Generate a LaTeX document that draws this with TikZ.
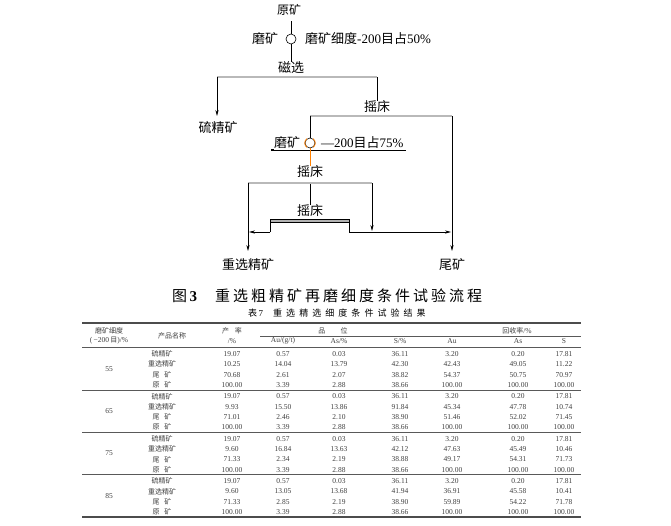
\documentclass[tikz,border=0pt]{standalone}
\usepackage{fontspec}
\setmainfont{Liberation Serif}
\newfontfamily\cjk{Noto Sans CJK SC}
\usetikzlibrary{arrows.meta}
\begin{document}
\begin{tikzpicture}[x=1pt,y=-1pt,
  flow/.style={inner sep=0pt, font=\fontsize{13}{13}\selectfont\cjk},
  circ/.style={draw, circle, minimum size=10pt, inner sep=0pt, line width=0.6pt},
  bar/.style={line width=0.7pt, double=gray!55, double distance=1.4pt},
  hbar/.style={draw=black, line width=0.5pt, fill=gray!60},
  arr/.style={line width=0.6pt, -{Stealth[length=6pt,width=3.2pt]}},
  ln/.style={line width=0.6pt},
  tb/.style={inner sep=0pt, font=\fontsize{7.5}{7.5}\selectfont, text=black!75},
  tbc/.style={inner sep=0pt, font=\fontsize{7}{7}\selectfont\cjk, text=black!75},
  thickrule/.style={line width=1.3pt, draw=black!70},
  thinrule/.style={line width=0.6pt, draw=black!65}]
\fill[white] (0,0) rectangle (671,525);
\path[use as bounding box] (0,0) rectangle (671,525);

% ---------------- flowsheet ----------------
\node[flow, font=\fontsize{12}{12}\selectfont\cjk] (yk) at (289,10) {原矿};
\coordinate (b1l) at (270,20); \coordinate (b1r) at (312,20); \coordinate (b1m) at (291,21);
\draw[bar, double=white] (b1l) -- (b1r);
\node[circ] (c1) at (291,39) {};
\draw[ln] (b1m) -- (c1);
\node[flow] (mk1) at (265,39) {磨矿};
\node[flow, anchor=west] (xd1) at (305,39) {磨矿细度{\rmfamily -200}目占{\rmfamily 50\%}};
\node[flow] (cx) at (291,68) {磁选};
\draw[ln] (c1) -- (cx);

\coordinate (b2l) at (217,77); \coordinate (b2r) at (377,77);
\draw[bar] (b2l) -- (b2r);
\coordinate (t1) at (217,116);
\draw[arr] (b2l) -- (t1);
\node[flow] (ljk) at (218,128) {硫精矿};
\node[flow] (yc1) at (377,107) {摇床};
\draw[ln] (b2r) -- (yc1);

\coordinate (b3l) at (310,116); \coordinate (b3r) at (452,116);
\draw[bar] (b3l) -- (b3r);
\node[circ] (c2) at (310,143) {};
\draw[ln] (b3l) -- (c2);
\coordinate (t2) at (452,251);
\draw[arr] (b3r) -- (t2);
\node[flow] (wk) at (452,265) {尾矿};

\coordinate (sq) at (272,150); \coordinate (ul) at (406,150);
\draw[ln] (sq) -- (ul);
\fill (sq) ++(-1,-1.2) rectangle ++(2.6,2.6);
\node[flow] (mk2) at (287,143) {磨矿};
\node[flow, anchor=west] (xd2) at (321,143) {{\rmfamily —200}目占{\rmfamily 75\%}};
\node[flow] (yc2) at (310,172) {摇床};
\draw[orange, line width=0.8pt] (c2.south) -- (yc2.north);
\draw[orange, line width=0.8pt] (c2.125) arc[start angle=125, end angle=235, radius=5.3pt];
\draw[orange, line width=0.8pt] (c2.55) arc[start angle=55, end angle=-55, radius=5.3pt];

\coordinate (b4l) at (248,183); \coordinate (b4r) at (372,183); \coordinate (b4m) at (310,184);
\draw[bar] (b4l) -- (b4r);
\coordinate (t3) at (248,251);
\draw[arr] (b4l) -- (t3);
\node[flow] (zj) at (248,265) {重选精矿};
\node[flow] (yc3) at (310,211) {摇床};
\draw[ln] (b4m) -- (yc3);

\coordinate (h1) at (270,219); \coordinate (h2) at (349,222);
\draw[hbar] (h1) rectangle (h2);
\coordinate (s1) at (270,232); \coordinate (s1t) at (249,232);
\coordinate (s2) at (349,232); \coordinate (s2t) at (451,232);
\draw[ln] (h1 |- h2) -- (s1);
\draw[arr] (s1) -- (s1t);
\draw[ln] (h2) -- (s2);
\draw[arr] (s2) -- (s2t);
\coordinate (t4) at (372,231);
\draw[arr] (b4r) -- (t4);

% ---------------- captions ----------------
\node[inner sep=0pt, anchor=west, font=\fontsize{15}{15}\selectfont] (cap) at (172,296)
  {{\cjk 图}\,\textbf{3}\hspace{18pt}{\cjk\addfontfeature{LetterSpace=20}重选粗精矿再磨细度条件试验流程}};
\node[inner sep=0pt, anchor=west, font=\fontsize{9}{9}\selectfont] (tt) at (248,313)
  {{\cjk 表}\,7\hspace{10pt}{\cjk\addfontfeature{LetterSpace=45}重选精选细度条件试验结果}};

% ---------------- table ----------------
\coordinate (tl) at (82,323); \coordinate (tr) at (581,323);
\draw[thickrule] (tl) -- (tr);
\coordinate (pl) at (260,336); \coordinate (pr) at (581,336);
\draw[thinrule, line width=0.5pt] (pl) -- (pr);
\coordinate (hl) at (82,347.5); \coordinate (hr) at (581,347.5);
\draw[thinrule] (hl) -- (hr);
\foreach \g in {1,2,3}{
  \coordinate (gl\g) at (82,347.5+42.4*\g);
  \coordinate (gr\g) at (581,347.5+42.4*\g);
  \draw[thinrule] (gl\g) -- (gr\g);
}
\coordinate (bl) at (82,517); \coordinate (br) at (581,517);
\draw[thickrule] (bl) -- (br);

\node[tbc] (h1a) at (109,331) {磨矿细度};
\node[tb] (h1b) at (109,341) {(\,−200\,{\cjk\fontsize{7}{7}\selectfont 目})/\%};
\node[tbc] (h2) at (172,336) {产品名称};
\node[tbc] (h3a) at (232,331) {产\hspace{0.8em}率};
\node[tb] (h3b) at (232,341) {/\%};
\node[tbc] (h4) at (333,331) {品\hspace{2.2em}位};
\node[tb] (h5) at (517,331) {{\cjk\fontsize{7}{7}\selectfont 回收率}/\%};
\node[tb] (s1h) at (283,341) {Au/(g/t)};
\node[tb] (s2h) at (339,341) {As/\%};
\node[tb] (s3h) at (400,341) {S/\%};
\node[tb] (s4h) at (452,341) {Au};
\node[tb] (s5h) at (518,341) {As};
\node[tb] (s6h) at (564,341) {S};

\foreach \g/\lab in {0/55,1/65,2/75,3/85}{
  \node[tb] (g\g) at (109,347.5+42.4*\g+21.2) {\lab};
}

\foreach \r/\p/\ya/\au/\as/\s/\rau/\ras/\rs in {
0/{硫精矿}/19.07/0.57/0.03/36.11/3.20/0.20/17.81,
1/{重选精矿}/10.25/14.04/13.79/42.30/42.43/49.05/11.22,
2/{尾\hspace{0.7em}矿}/70.68/2.61/2.07/38.82/54.37/50.75/70.97,
3/{原\hspace{0.7em}矿}/100.00/3.39/2.88/38.66/100.00/100.00/100.00,
4/{硫精矿}/19.07/0.57/0.03/36.11/3.20/0.20/17.81,
5/{重选精矿}/9.93/15.50/13.86/91.84/45.34/47.78/10.74,
6/{尾\hspace{0.7em}矿}/71.01/2.46/2.10/38.90/51.46/52.02/71.45,
7/{原\hspace{0.7em}矿}/100.00/3.39/2.88/38.66/100.00/100.00/100.00,
8/{硫精矿}/19.07/0.57/0.03/36.11/3.20/0.20/17.81,
9/{重选精矿}/9.60/16.84/13.63/42.12/47.63/45.49/10.46,
10/{尾\hspace{0.7em}矿}/71.33/2.34/2.19/38.88/49.17/54.31/71.73,
11/{原\hspace{0.7em}矿}/100.00/3.39/2.88/38.66/100.00/100.00/100.00,
12/{硫精矿}/19.07/0.57/0.03/36.11/3.20/0.20/17.81,
13/{重选精矿}/9.60/13.05/13.68/41.94/36.91/45.58/10.41,
14/{尾\hspace{0.7em}矿}/71.33/2.85/2.19/38.90/59.89/54.22/71.78,
15/{原\hspace{0.7em}矿}/100.00/3.39/2.88/38.66/100.00/100.00/100.00}{
  \pgfmathsetmacro{\yy}{347.5+42.4*int(\r/4)+6.5+10.3*mod(\r,4)}
  \node[tbc] (p\r) at (162,\yy) {\p};
  \node[tb] (ya\r) at (232,\yy) {\ya};
  \node[tb] (au\r) at (283,\yy) {\au};
  \node[tb] (as\r) at (339,\yy) {\as};
  \node[tb] (s\r) at (400,\yy) {\s};
  \node[tb] (rau\r) at (452,\yy) {\rau};
  \node[tb] (ras\r) at (518,\yy) {\ras};
  \node[tb] (rs\r) at (564,\yy) {\rs};
}
\end{tikzpicture}
\end{document}
